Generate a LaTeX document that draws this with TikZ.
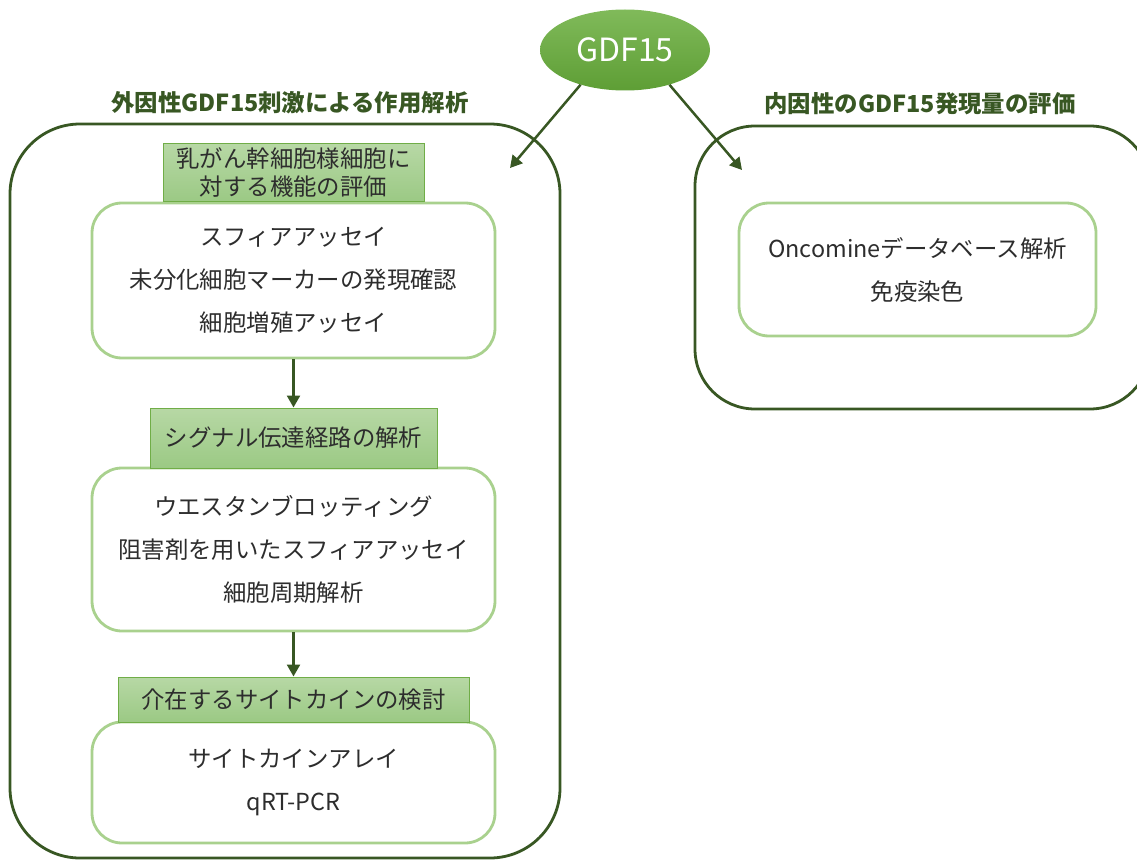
\documentclass[tikz,border=0pt]{standalone}
\usepackage{fontspec}
\setmainfont{Noto Sans CJK JP}
\usetikzlibrary{shapes.geometric,arrows.meta}
\definecolor{dkgreen}{RGB}{56,87,35}
\definecolor{ltborder}{RGB}{169,209,142}
\definecolor{lbltop}{RGB}{183,216,165}
\definecolor{lblbot}{RGB}{155,201,132}
\definecolor{lblborder}{RGB}{112,173,71}
\definecolor{elltop}{RGB}{128,186,90}
\definecolor{ellbot}{RGB}{94,158,53}
\definecolor{txt}{RGB}{45,45,45}
\tikzset{
  outerbox/.style={draw=dkgreen,line width=2.8pt,rounded corners=#1,inner sep=0pt},
  innerbox/.style={draw=ltborder,line width=2.8pt,fill=white,rounded corners=30pt,inner sep=0pt,
    text=txt,align=center,font=\fontsize{23.4}{43}\selectfont},
  lblbox/.style={draw=lblborder,line width=1pt,top color=lbltop,bottom color=lblbot,inner sep=0pt,
    text=txt,align=center,font=\fontsize{23.4}{28}\selectfont},
  title/.style={text=dkgreen,font=\fontsize{23.4}{26}\selectfont\bfseries},
  arr/.style={draw=dkgreen,line width=2.5pt,-{Triangle[width=13pt,length=12pt]}}
}
\begin{document}
\begin{tikzpicture}[x=1pt,y=-1pt]
\useasboundingbox (0,0) rectangle (1137,861);
% big outer boxes
\node[outerbox=70pt,minimum width=550pt,minimum height=734pt] (L) at (285,491) {};
\node[outerbox=60pt,minimum width=455pt,minimum height=283pt] (R) at (922.5,267.5) {};
% titles
\node[title] (tl) at (290,103) {外因性GDF15刺激による作用解析};
\node[title] (tr) at (920,104) {内因性のGDF15発現量の評価};
% ellipse
\node[ellipse,draw=none,top color=elltop,bottom color=ellbot,minimum width=170pt,minimum height=81pt,
  text=white,font=\fontsize{32}{36}\selectfont] (g) at (625,50) {GDF15};
\coordinate (lt) at (510,168);
\coordinate (rt) at (742,170);
\draw[arr] (g.218) -- (lt);
\draw[arr] (g.322) -- (rt);
% left column
\node[innerbox,minimum width=403pt,minimum height=155pt] (b1) at (293.5,280.5)
  {スフィアアッセイ\\未分化細胞マーカーの発現確認\\細胞増殖アッセイ};
\node[lblbox,minimum width=261pt,minimum height=58pt] (l1) at (293.5,173)
  {乳がん幹細胞様細胞に\\対する機能の評価};
\node[innerbox,minimum width=403pt,minimum height=163pt] (b2) at (293.5,549.5)
  {ウエスタンブロッティング\\阻害剤を用いたスフィアアッセイ\\細胞周期解析};
\node[lblbox,minimum width=287pt,minimum height=60pt] (l2) at (293.5,438)
  {シグナル伝達経路の解析};
\node[innerbox,minimum width=403pt,minimum height=121pt] (b3) at (293.5,782.5)
  {サイトカインアレイ\\qRT-PCR};
\node[lblbox,minimum width=351pt,minimum height=45pt] (l3) at (293.5,699.5)
  {介在するサイトカインの検討};
\draw[arr] (b1.south) -- (l2.north);
\draw[arr] (b2.south) -- (l3.north);
% right column
\node[innerbox,minimum width=357pt,minimum height=133pt] (b4) at (917.5,269.5)
  {Oncomineデータベース解析\\免疫染色};
\end{tikzpicture}
\end{document}
